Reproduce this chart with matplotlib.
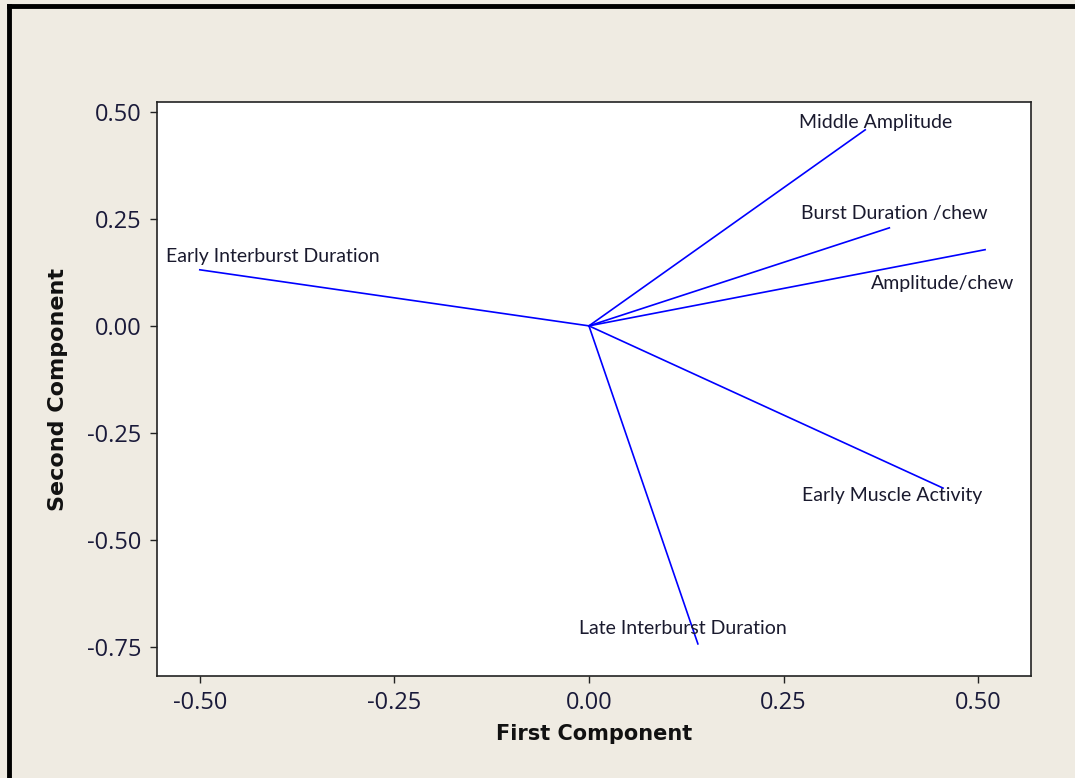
import matplotlib
matplotlib.use("Agg")
import matplotlib.pyplot as plt
from matplotlib.lines import Line2D

variables = ["Middle Amplitude", "Burst Duration /chew", "Amplitude/chew",
             "Early Interburst Duration", "Early Muscle Activity", "Late Interburst Duration"]
pc1 = [0.355, 0.386, 0.509, -0.500, 0.455, 0.140]
pc2 = [0.458, 0.229, 0.178, 0.131, -0.379, -0.743]
label_x = [0.369, 0.393, 0.455, -0.406, 0.390, 0.121]
label_y = [0.474, 0.262, 0.100, 0.161, -0.397, -0.706]
xticks = [-0.50, -0.25, 0.00, 0.25, 0.50]
yticks = [0.50, 0.25, 0.00, -0.25, -0.50, -0.75]

bg = "#EFEBE2"
fig = plt.figure(figsize=(10.75, 7.78), dpi=100, facecolor=bg)
W, H = 1075, 778
ax = fig.add_axes([157 / W, 1 - 676 / H, (1031 - 157) / W, (676 - 102) / H])
ax.set_facecolor("white")

for x, y in zip(pc1, pc2):
    ax.plot([0, x], [0, y], color="#0000FF", lw=1.2)
for name, lx, ly in zip(variables, label_x, label_y):
    ax.text(lx, ly, name, ha="center", va="center", fontsize=14,
            family="Lato", color="#1a1a2e")

ax.set_xlim(-0.555, 0.568)
ax.set_ylim(-0.818, 0.523)
ax.set_xticks(xticks)
ax.set_yticks(yticks)
ax.set_xticklabels([f"{v:.2f}" for v in xticks])
ax.set_yticklabels([f"{v:.2f}" for v in yticks])
ax.tick_params(direction="out", length=5, width=1, labelsize=17, colors="#222",
               labelcolor="#1a1a3a", pad=6)
for lab in ax.get_xticklabels() + ax.get_yticklabels():
    lab.set_family("Open Sans")
for s in ax.spines.values():
    s.set_linewidth(1.2)
    s.set_color("#222")

ax.set_xlabel("First Component", fontsize=15, fontweight="bold", labelpad=6,
              color="#111")
ax.set_ylabel("Second Component", fontsize=16, fontweight="bold", labelpad=14,
              color="#111")

# figure border (left and top)
fig.add_artist(Line2D([9 / W, 9 / W], [0, 1 - 6 / H], transform=fig.transFigure,
                      color="black", lw=3.5))
fig.add_artist(Line2D([9 / W, 1], [1 - 6 / H, 1 - 6 / H], transform=fig.transFigure,
                      color="black", lw=3.5))

fig.savefig("out.png", dpi=100, facecolor=bg)
